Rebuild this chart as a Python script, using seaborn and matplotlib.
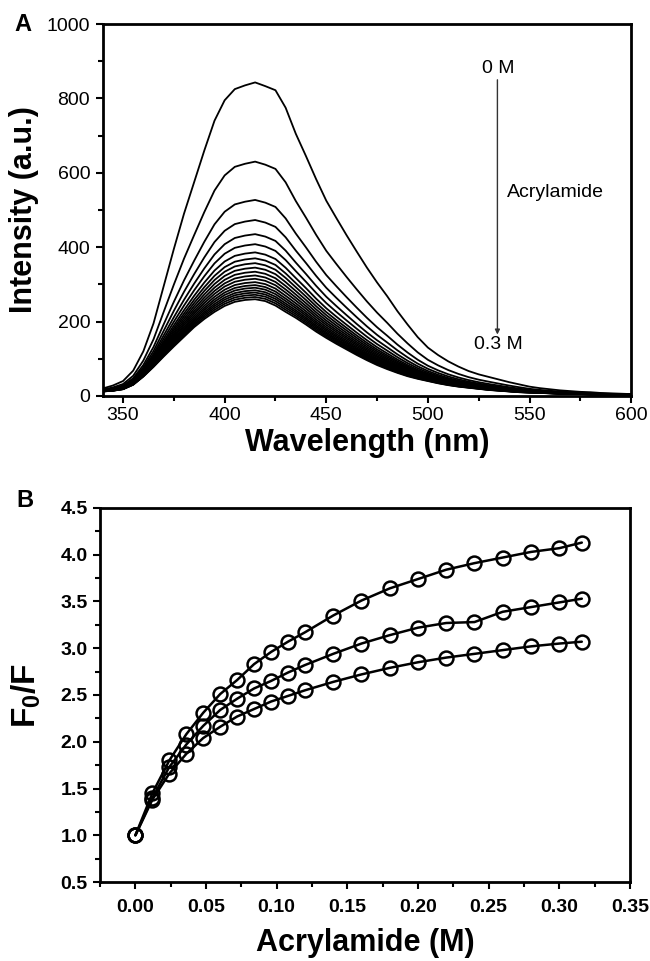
import matplotlib
matplotlib.use("Agg")
import matplotlib.pyplot as plt
import numpy as np
import pandas as pd
import seaborn as sns
from matplotlib.ticker import MultipleLocator, FormatStrFormatter

# --- panel A: emission spectra ---
wavelength = [340, 345, 350, 355, 360, 365, 370, 375, 380, 385, 390, 395, 400, 405,
              410, 415, 420, 425, 430, 435, 440, 445, 450, 455, 460, 465, 470, 475,
              480, 485, 490, 495, 500, 505, 510, 515, 520, 525, 530, 535, 540, 545,
              550, 555, 560, 565, 570, 575, 580, 585, 590, 595, 600]
# 0 M spectrum (top curve)
spec_0M = [20, 28, 40, 68, 120, 195, 295, 395, 490, 575, 660, 740, 795, 825,
           835, 843, 833, 822, 775, 705, 645, 583, 525, 478, 432, 388, 345, 305,
           268, 228, 192, 158, 130, 110, 93, 79, 67, 58, 51, 44, 37, 31,
           25, 21, 18, 15, 13, 11, 10, 8, 7, 6, 5]
# 0.3 M spectrum (bottom curve)
spec_03M = [12, 14, 18, 30, 52, 78, 106, 133, 159, 185, 207, 226, 242, 253,
            258, 260, 255, 243, 226, 210, 192, 173, 156, 140, 125, 110, 96, 83,
            72, 62, 53, 46, 40, 34, 29, 25, 22, 19, 16, 14, 12, 10,
            9, 8, 7, 6, 5, 5, 4, 4, 3, 3, 3]
# peak height of every spectrum, 0 M -> 0.3 M
peak_heights = [843, 630, 527, 473, 435, 408, 386, 370, 357, 345, 334, 324, 315,
                306, 298, 291, 284, 278, 272, 266, 260]

# --- panel B: Stern-Volmer data ---
acrylamide = [0.0, 0.012, 0.024, 0.036, 0.048, 0.060, 0.072, 0.084, 0.096, 0.108,
              0.120, 0.140, 0.160, 0.180, 0.200, 0.220, 0.240, 0.260, 0.280, 0.300, 0.316]
f0f_top = [1.0, 1.45, 1.80, 2.08, 2.31, 2.51, 2.66, 2.83, 2.96, 3.07, 3.17, 3.35,
           3.51, 3.64, 3.74, 3.84, 3.91, 3.97, 4.03, 4.07, 4.13]
f0f_mid = [1.0, 1.40, 1.73, 1.97, 2.17, 2.34, 2.46, 2.57, 2.65, 2.74, 2.82, 2.94,
           3.05, 3.14, 3.22, 3.27, 3.28, 3.39, 3.44, 3.49, 3.53]
f0f_low = [1.0, 1.38, 1.66, 1.87, 2.04, 2.16, 2.27, 2.35, 2.43, 2.49, 2.55, 2.64,
           2.72, 2.79, 2.85, 2.90, 2.94, 2.98, 3.02, 3.05, 3.07]

sns.set_theme(style="ticks")
plt.rcParams["font.family"] = ["Liberation Sans", "DejaVu Sans"]
plt.rcParams["mathtext.fontset"] = "custom"
plt.rcParams["mathtext.rm"] = "Liberation Sans"
plt.rcParams["mathtext.bf"] = "Liberation Sans:bold"
plt.rcParams["text.color"] = "black"
plt.rcParams["axes.labelcolor"] = "black"
plt.rcParams["xtick.color"] = "black"
plt.rcParams["ytick.color"] = "black"

# long-form table of spectra
top = np.array(spec_0M, float)
low = np.array(spec_03M, float)
rows = []
for k, p in enumerate(peak_heights):
    w = (p - peak_heights[-1]) / (peak_heights[0] - peak_heights[-1])
    for wl, v in zip(wavelength, low + w * (top - low)):
        rows.append((k, wl, v))
spectra = pd.DataFrame(rows, columns=["curve", "wavelength", "intensity"])

sv = pd.DataFrame({
    "conc": acrylamide * 3,
    "f0f": f0f_top + f0f_mid + f0f_low,
    "series": ["top"] * 21 + ["mid"] * 21 + ["low"] * 21,
})

fig = plt.figure(figsize=(6.5, 9.61), dpi=100)
ax1 = fig.add_axes([0.158, 0.588, 0.813, 0.387])
ax2 = fig.add_axes([0.154, 0.0822, 0.815, 0.3892])

# panel A
sns.lineplot(data=spectra, x="wavelength", y="intensity", units="curve",
             estimator=None, color="black", lw=1.3, ax=ax1)
ax1.set_xlim(340, 600)
ax1.set_ylim(0, 1000)
ax1.xaxis.set_major_locator(MultipleLocator(50))
ax1.xaxis.set_minor_locator(MultipleLocator(25))
ax1.yaxis.set_major_locator(MultipleLocator(200))
ax1.yaxis.set_minor_locator(MultipleLocator(100))
ax1.tick_params(which="both", direction="out", width=1.5, colors="black",
                top=False, right=False, labelsize=14)
ax1.tick_params(which="major", length=5)
ax1.tick_params(which="minor", length=3.5)
ax1.tick_params(axis="x", pad=3)
ax1.tick_params(axis="y", pad=4)
ax1.set_xlabel("Wavelength (nm)", fontsize=22, fontweight="bold")
ax1.set_ylabel("Intensity (a.u.)", fontsize=22, fontweight="bold")
ax1.xaxis.set_label_coords(0.5, -0.126)
ax1.xaxis.label.set_va("center")
ax1.yaxis.set_label_coords(-0.149, 0.5)
ax1.yaxis.label.set_va("center")

ax1.annotate("", xy=(534.2, 165), xytext=(534.2, 850),
             arrowprops=dict(arrowstyle="-|>", color="#333333", lw=1.0,
                             mutation_scale=7, shrinkA=0, shrinkB=0))
ax1.text(534.5, 881, "0 M", ha="center", va="center", fontsize=14)
ax1.text(538.7, 546, "Acrylamide", ha="left", va="center", fontsize=14)
ax1.text(534.7, 137, "0.3 M", ha="center", va="center", fontsize=14)

# panel B
sns.lineplot(data=sv, x="conc", y="f0f", units="series", estimator=None,
             color="black", lw=1.8, marker="o", ms=10, mfc="none",
             mec="black", mew=1.8, ax=ax2)
ax2.set_xlim(-0.025, 0.35)
ax2.set_ylim(0.5, 4.5)
ax2.xaxis.set_major_locator(MultipleLocator(0.05))
ax2.xaxis.set_minor_locator(MultipleLocator(0.025))
ax2.yaxis.set_major_locator(MultipleLocator(0.5))
ax2.yaxis.set_minor_locator(MultipleLocator(0.25))
ax2.xaxis.set_major_formatter(FormatStrFormatter("%.2f"))
ax2.yaxis.set_major_formatter(FormatStrFormatter("%.1f"))
ax2.tick_params(which="both", direction="out", width=1.5, colors="black",
                top=False, right=False, labelsize=14)
ax2.tick_params(which="major", length=5)
ax2.tick_params(which="minor", length=3.5)
ax2.tick_params(axis="x", pad=7)
ax2.tick_params(axis="y", pad=4)
for lab in ax2.get_xticklabels() + ax2.get_yticklabels():
    lab.set_fontweight("bold")
ax2.set_xlabel("Acrylamide (M)", fontsize=22, fontweight="bold")
ax2.set_ylabel(r"$\mathbf{F_0/F}$", fontsize=24)
ax2.xaxis.set_label_coords(0.5, -0.163)
ax2.xaxis.label.set_va("center")
ax2.yaxis.set_label_coords(-0.139, 0.5)
ax2.yaxis.label.set_va("center")

for ax in (ax1, ax2):
    for sp in ax.spines.values():
        sp.set_linewidth(2)
        sp.set_color("black")

fig.text(0.022, 0.9745, "A", fontsize=17, fontweight="bold", va="center")
fig.text(0.025, 0.4797, "B", fontsize=17, fontweight="bold", va="center")

fig.savefig("out.png", dpi=100)
